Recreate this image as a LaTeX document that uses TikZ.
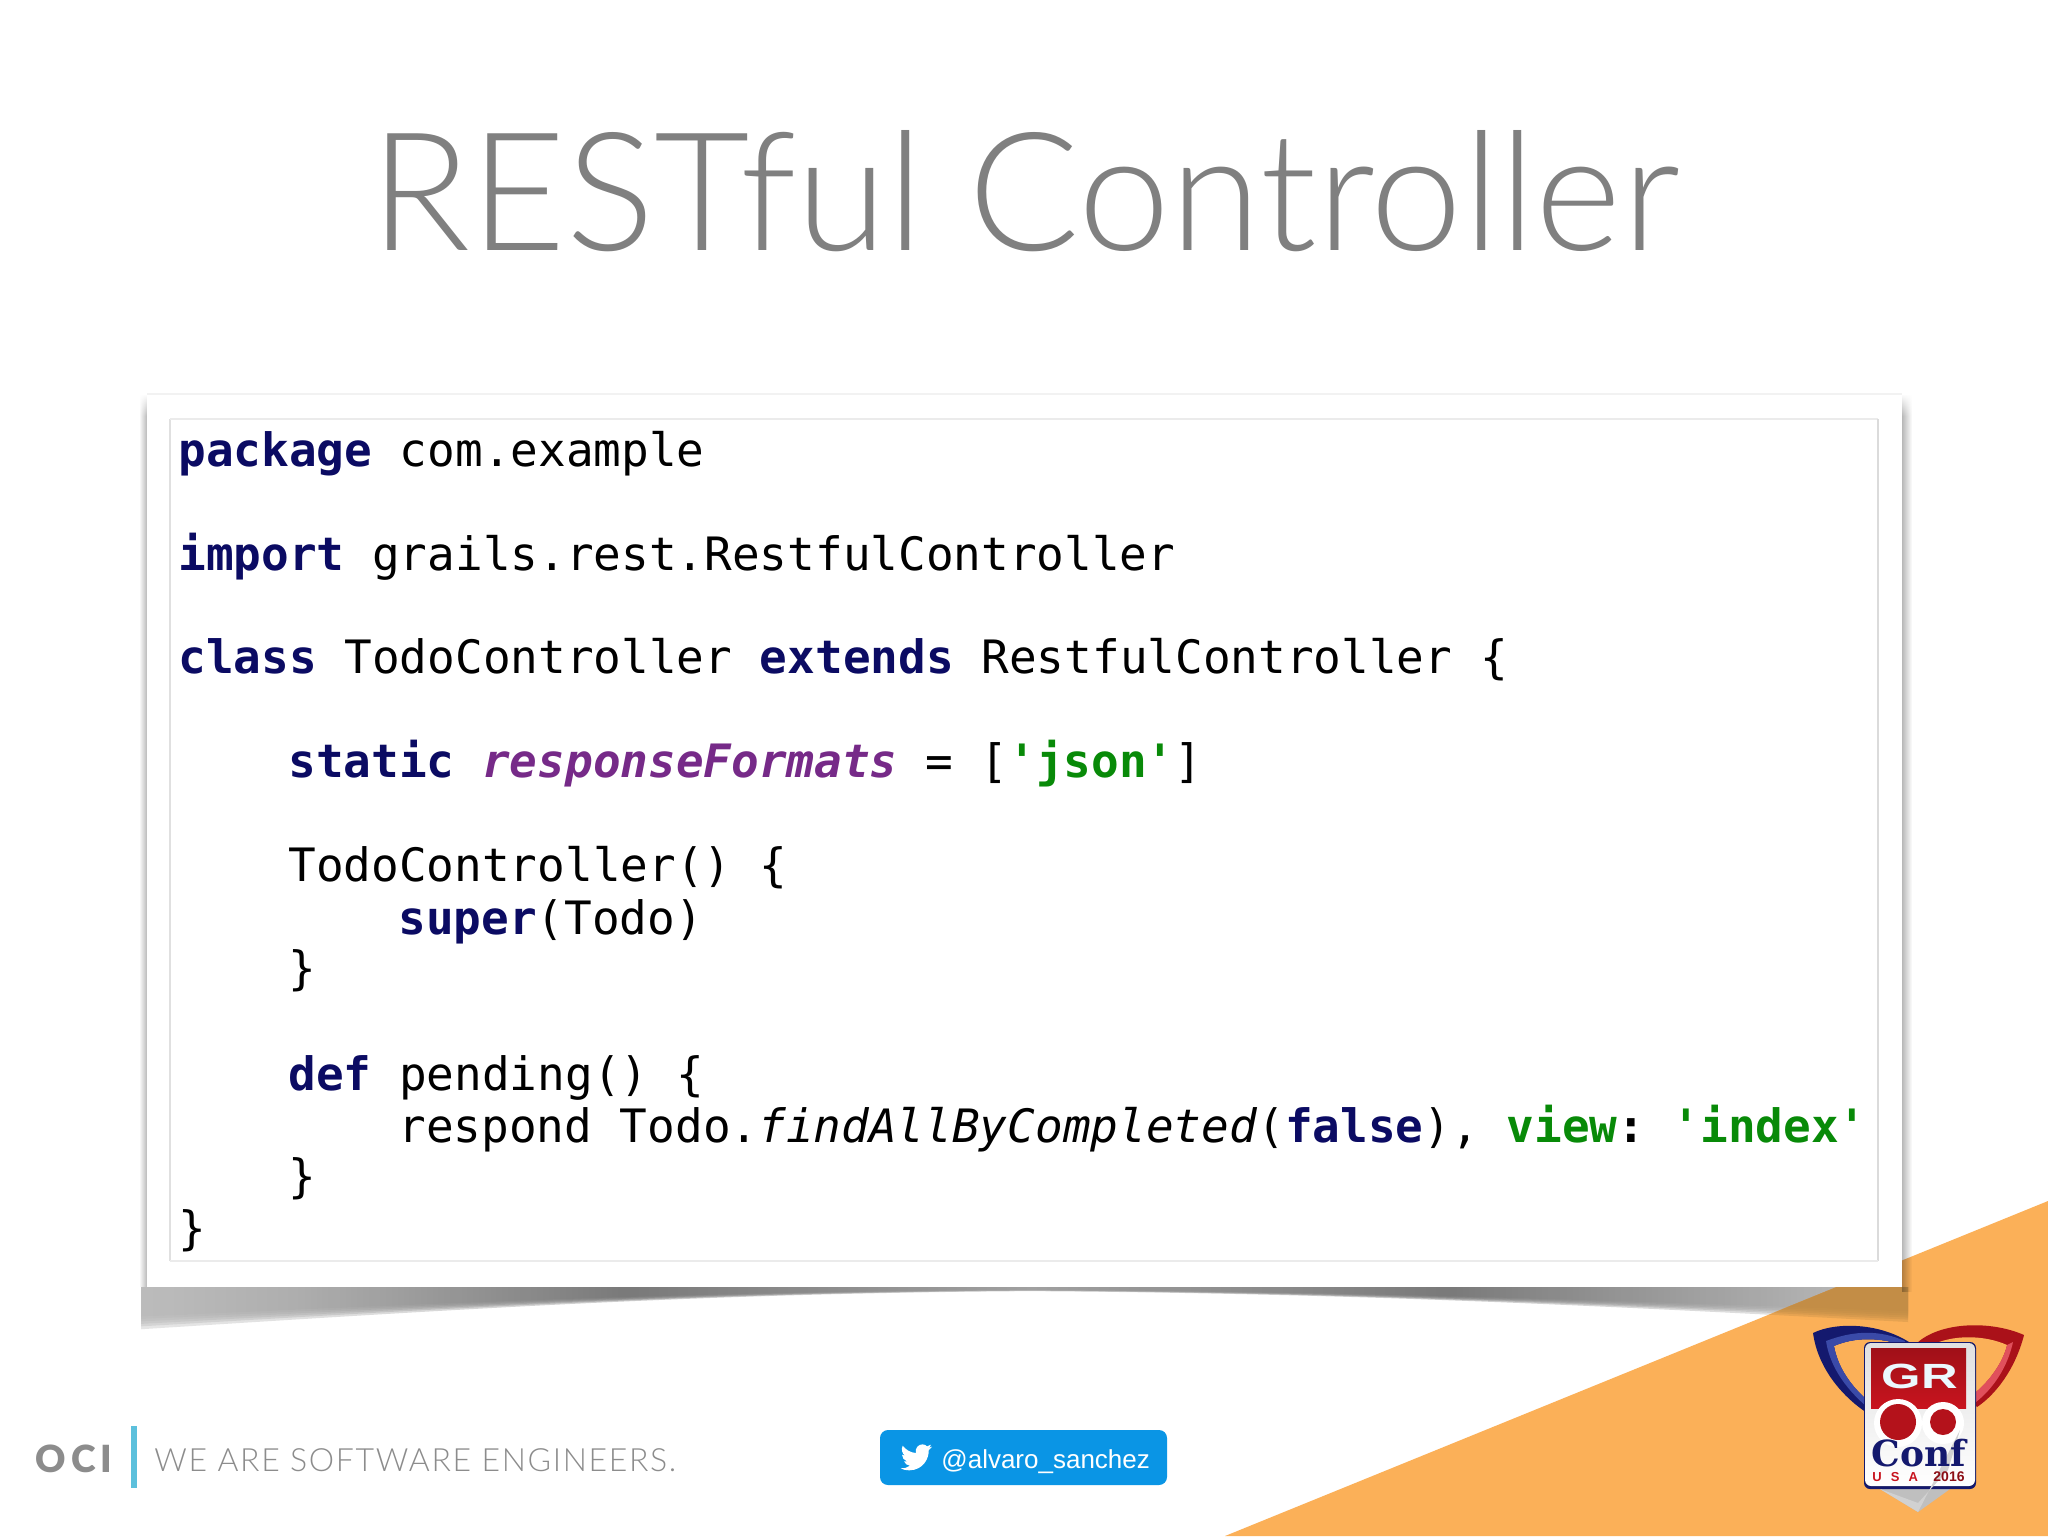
\documentclass[tikz,border=0pt]{standalone}
\usepackage{fontspec}
\usetikzlibrary{fadings}
\setmainfont{Liberation Sans}
\setmonofont{DejaVu Sans Mono}
\newfontfamily\titlefont{Lato Light}
\newfontfamily\taglinefont{Lato Light}[LetterSpace=5.2]
\newfontfamily\ocifont{Lato Black}[LetterSpace=14]
\newfontfamily\conffont{DejaVu Serif}
\newfontfamily\usafont{Liberation Sans}[LetterSpace=70]

\definecolor{keywordnavy}{HTML}{0B0B63}
\definecolor{fieldpurple}{HTML}{762A88}
\definecolor{stringgreen}{HTML}{088A08}
\definecolor{titlegray}{HTML}{808080}
\definecolor{cornerorange}{HTML}{FBB058}
\definecolor{cornerbrown}{HTML}{C08C46}
\definecolor{tweetblue}{HTML}{0A95E5}
\definecolor{barblue}{HTML}{5CC0DC}
\definecolor{logonavy}{HTML}{14196E}
\definecolor{logoband}{HTML}{3A4AA8}
\definecolor{logored}{HTML}{C8141E}
\definecolor{logopink}{HTML}{E0505C}

\pgfdeclarehorizontalshading{shadowtone}{100bp}{
    color(0bp)=(black!28); color(25bp)=(black!28); color(29.5bp)=(black!34); color(38.7bp)=(black!56);
    color(50.2bp)=(black!40); color(62bp)=(black!56); color(73.4bp)=(black!30); color(75bp)=(black!28); color(100bp)=(black!28)}
\tikzfading[name=fadetoleft, left color=transparent!100, right color=transparent!0]
\tikzfading[name=fadetoright, left color=transparent!0, right color=transparent!100]
\tikzfading[name=fadetobottom, top color=transparent!0, bottom color=transparent!100]

\newcommand{\kw}[1]{\textcolor{keywordnavy}{\textbf{#1}}}
\newcommand{\str}[1]{\textcolor{stringgreen}{\textbf{#1}}}
% Lower edge of the panel's shadow, \f widens or narrows it
\newcommand{\shadowshape}{(141,1287) -- (141,1287+41*\f)
    .. controls (450,1287+22*\f) and (700,1287+6*\f) .. (1030,1287+4*\f)
    .. controls (1350,1287+6*\f) and (1600,1287+18*\f) .. (1908,1287+34*\f)
    -- (1908,1287) -- cycle}

\tikzset{
    codeline/.style={anchor=base west, inner sep=0pt, font=\ttfamily\fontsize{23}{26}\selectfont, text=black},
    logotext/.style={anchor=base, inner sep=0pt},
}

\begin{document}
\begin{tikzpicture}[x=0.5pt,y=-0.5pt,line join=round]

        \useasboundingbox (0,0) rectangle (2048,1536);
        \fill[white] (0,0) rectangle (2048,1536);

        % Title
        \node[logotext, text=titlegray, font=\titlefont\fontsize{82.5}{90}\selectfont] (title) at (1025,250) {RESTful Controller};

        % Shadow of the panel
        \foreach \f in {0.72,0.78,0.84,0.9,0.96,1.03}{
            \shade[shading=shadowtone, opacity=0.35] \shadowshape;
        }

        % Orange corner
        \fill[cornerorange] (1225,1536) -- (2048,1201) -- (2048,1536) -- cycle;
        \begin{scope}
            \clip (1225,1536) -- (2048,1201) -- (2048,1536) -- cycle;
            \foreach \f in {0.72,0.78,0.84,0.9,0.96,1.03}{
                \fill[cornerbrown, opacity=0.35] \shadowshape;
            }
        \end{scope}
        \fill[black, opacity=0.28, path fading=fadetoleft] (139,394) rectangle (147,1287);
        \fill[black, opacity=0.28, path fading=fadetoright] (1902,394) rectangle (1912,1292);
        \fill[white, path fading=fadetobottom] (137,394) rectangle (147,416);
        \fill[white, path fading=fadetobottom] (1902,394) rectangle (1914,416);

        % Panel and code frame
        \fill[white] (147,394) rectangle (1902,1287);
        \draw[black!5, line width=1pt] (147,394) -- (1902,394);
        \draw[black!12, line width=1pt] (170,1261) -- (170,419);
        \draw[black!8, line width=1pt] (170,419) -- (1878,419);
        \draw[black!14, line width=1pt] (1878,419) -- (1878,1261);
        \draw[black!8, line width=1pt] (1878,1261) -- (170,1261);

        % Code lines
        \node[codeline] (packageline) at (178,466) {\kw{package} com.example};
        \node[codeline] (importline) at (178,570) {\kw{import} grails.rest.RestfulController};
        \node[codeline] (classline) at (178,673) {\kw{class} TodoController \kw{extends} RestfulController \{};
        \node[codeline] (staticline) at (288,777) {\kw{static} \textcolor{fieldpurple}{\textbf{\textit{responseFormats}}} = [\str{'json'}]};
        \node[codeline] (ctorline) at (288,881) {TodoController() \{};
        \node[codeline] (superline) at (398,934) {\kw{super}(Todo)};
        \node[codeline] (ctorend) at (288,984) {\}};
        \node[codeline] (defline) at (288,1090) {\kw{def} pending() \{};
        \node[codeline] (respondline) at (398,1142) {respond Todo.\textit{findAllByCompleted}(\kw{false}), \str{view}\textbf{:} \str{'index'}};
        \node[codeline] (defend) at (288,1192) {\}};
        \node[codeline] (classend) at (178,1244) {\}};

        % OCI footer
        \node[logotext, anchor=base west, text=black!45, font=\ocifont\fontsize{18.7}{20}\selectfont] (oci) at (35,1472) {OCI};
        \fill[barblue] (131,1426) rectangle (137,1488);
        \node[logotext, anchor=base west, text=black!45, font=\taglinefont\fontsize{16}{18}\selectfont] (tagline) at (154,1471) {WE ARE SOFTWARE ENGINEERS.};

        % Twitter badge
        \fill[tweetblue, rounded corners=4pt] (880,1430) rectangle (1167,1485);
        \begin{scope}[shift={(870,1420)},x=0.16667pt,y=-0.16667pt]
            \fill[white] (186,80) .. controls (182,84) and (179,88) .. (176,91)
                .. controls (177,115) and (160,150) .. (118,151)
                .. controls (108,151) and (99,149) .. (92,145)
                .. controls (102,146) and (112,143) .. (120,137)
                .. controls (112,136) and (105,132) .. (102,124)
                .. controls (105,125) and (108,125) .. (111,124)
                .. controls (102,121) and (96,113) .. (96,104)
                .. controls (99,106) and (102,107) .. (105,107)
                .. controls (96,100) and (93,88) .. (98,77)
                .. controls (108,90) and (122,98) .. (138,99)
                .. controls (134,84) and (146,73) .. (157,73)
                .. controls (163,73) and (168,75) .. (171,79)
                .. controls (175,78) and (179,76) .. (183,74)
                .. controls (182,78) and (179,82) .. (175,84)
                .. controls (179,84) and (183,82) .. (186,80) -- cycle;
        \end{scope}
        \node[logotext, anchor=base west, text=white, font=\fontsize{13}{15}\selectfont] (handle) at (941,1468) {@alvaro\_sanchez};

        % Conference logo, arcs
        \fill[logonavy] (1813,1333) .. controls (1835,1322) and (1880,1322) .. (1912,1344)
            -- (1872,1416) .. controls (1845,1400) and (1818,1370) .. (1813,1333) -- cycle;
        \fill[cornerorange] (1834,1346) .. controls (1855,1337) and (1880,1337) .. (1905,1346)
            -- (1872,1404) .. controls (1852,1388) and (1838,1368) .. (1834,1346) -- cycle;
        \fill[logored!85!black] (1917,1343) .. controls (1940,1322) and (1990,1320) .. (2024,1335)
            .. controls (2015,1370) and (1995,1395) .. (1977,1407) -- cycle;
        \fill[cornerorange] (1930,1346) .. controls (1952,1334) and (1985,1335) .. (2007,1345)
            .. controls (2003,1362) and (1990,1380) .. (1976,1392) -- cycle;
        \fill[logoband] (1826,1341) .. controls (1855,1330) and (1880,1330) .. (1905,1341)
            -- (1905,1346) .. controls (1880,1337) and (1855,1337) .. (1834,1346)
            .. controls (1838,1368) and (1852,1388) .. (1872,1404) -- (1872,1411)
            .. controls (1848,1392) and (1830,1368) .. (1826,1341) -- cycle;
        \fill[logopink] (1976,1392) .. controls (1990,1380) and (2003,1362) .. (2007,1345)
            -- (2013,1342) .. controls (2008,1365) and (1995,1387) .. (1976,1402) -- cycle;

        % Conference logo, badge
        \fill[black!25] (1880,1489) -- (1918,1512) -- (1950,1489) -- cycle;
        \fill[logonavy, rounded corners=3pt] (1864,1342) rectangle (1976,1489);
        \fill[top color=black!12, bottom color=white, rounded corners=3pt] (1865,1343) rectangle (1975,1486);
        \fill[top color=logored!80!black, bottom color=logored] (1871,1348) rectangle (1966,1408);
        \fill[white] (1898,1423) circle (24);
        \fill[white] (1943,1423) circle (21);
        \fill[black!18] (1880,1489) -- (1918,1512) -- (1960,1430) -- (1948,1470) -- (1918,1503) -- cycle;
        \fill[logored!90!black] (1898,1422) circle (18);
        \fill[logored!90!black] (1943,1422) circle (13);
        \node[logotext, text=white!92!cyan, font=\bfseries\fontsize{17.5}{20}\selectfont] (grtext) at (1920,1388) {\scalebox{1.45}[1]{GR}};
        \node[logotext, text=logonavy, font=\conffont\bfseries\fontsize{18}{20}\selectfont] (conftext) at (1919,1466) {Conf};
        \node[logotext, anchor=base west, text=logored, font=\usafont\bfseries\fontsize{6.5}{8}\selectfont] (usatext) at (1872,1481) {USA};
        \node[logotext, anchor=base west, text=logored!70!black, font=\bfseries\fontsize{7}{8}\selectfont] (yeartext) at (1933,1481) {2016};

\end{tikzpicture}
\end{document}
